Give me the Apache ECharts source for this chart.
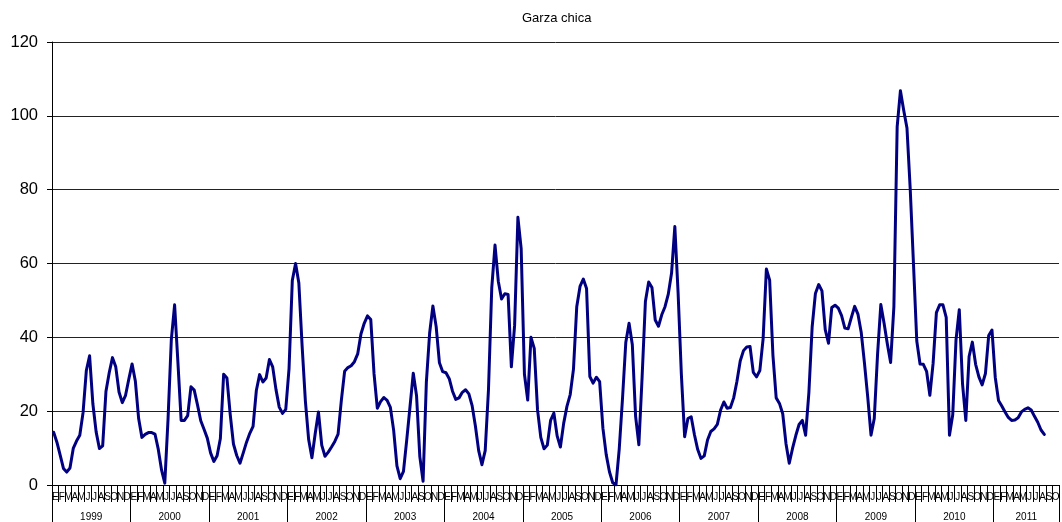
<!DOCTYPE html>
<html>
<head>
<meta charset="utf-8">
<script src="https://cdn.jsdelivr.net/npm/echarts@6/dist/echarts.min.js"></script>
<style>html,body{margin:0;padding:0;background:#fff}#c{width:1062px;height:522px}</style>
</head>
<body>
<div id="c"></div>
<script>
// ---- data (half-monthly values) ----
const chartTitle = 'Garza chica';
const monthLetters = ['E','F','M','A','M','J','J','A','S','O','N','D'];
const years = ['1999','2000','2001','2002','2003','2004','2005','2006','2007','2008','2009','2010','2011'];
const monthsShownLastYear = 10;
const yMin = 0, yMax = 120, yStep = 20;

const v1999 = [14.3, 11.6, 8.1, 4.5, 3.5, 4.6, 9.9, 11.9, 13.5, 19.6, 31, 35, 22, 14.4, 9.9, 10.6, 25.3, 30.4, 34.5, 32, 25.2, 22.3, 24.3, 28.7];
const v2000 = [32.8, 28.1, 18, 12.9, 13.7, 14.2, 14.2, 13.8, 9.7, 4.1, 0.5, 18, 39.4, 48.8, 33.4, 17.5, 17.5, 18.8, 26.6, 25.7, 21.7, 17.4, 15.1, 12.7];
const v2001 = [8.7, 6.4, 7.9, 12.6, 30, 29, 19.2, 11.1, 8, 5.9, 8.7, 11.6, 14, 15.9, 25.6, 29.9, 27.9, 29, 34, 32, 25.9, 21.1, 19.4, 20.5];
const v2002 = [31.5, 55.4, 60, 54.7, 37.7, 22.7, 12.3, 7.4, 13.9, 19.8, 10.8, 7.8, 8.9, 10.3, 11.8, 13.8, 22.9, 30.8, 31.8, 32.3, 33.4, 35.5, 40.9, 43.8];
const v2003 = [45.8, 44.8, 30.1, 20.8, 22.6, 23.7, 22.9, 21, 14.8, 5.2, 1.7, 3.7, 12.2, 21.2, 30.3, 24.2, 7.7, 1, 27.8, 41.1, 48.5, 42.9, 33.1, 30.7];
const v2004 = [30.4, 28.8, 25.4, 23.2, 23.6, 25.1, 25.8, 24.7, 21.5, 16, 9.3, 5.5, 9.3, 25.8, 53.3, 65, 55.2, 50.4, 51.8, 51.6, 32, 43.3, 72.5, 64];
const v2005 = [30, 23, 40, 37, 20.4, 12.9, 9.8, 10.8, 17.5, 19.5, 13.3, 10.3, 16.7, 21.3, 24.5, 31.4, 48.3, 53.8, 55.8, 53.2, 29.4, 27.6, 29.2, 28];
const v2006 = [15.4, 8.3, 3.6, 0.6, 0, 9.8, 23.5, 38.6, 43.8, 38, 18.6, 10.9, 29.4, 49.7, 55, 53.5, 44.7, 43, 46.1, 48.3, 51.7, 57.4, 70, 52];
const v2007 = [29.9, 13.1, 18, 18.5, 13.6, 9.6, 7.2, 7.9, 12.2, 14.5, 15.2, 16.4, 20.3, 22.5, 20.8, 21, 23.6, 28.1, 33.6, 36.4, 37.4, 37.5, 30.5, 29.3];
const v2008 = [31, 39.6, 58.5, 55.5, 35.2, 23.6, 22.1, 19.3, 11.2, 5.9, 9.9, 13.4, 16.4, 17.5, 13.5, 25, 42.8, 51.9, 54.3, 52.6, 42.1, 38.4, 48.1, 48.7];
const v2009 = [47.9, 45.9, 42.5, 42.3, 45.4, 48.4, 46.3, 41.4, 33, 23.8, 13.5, 18, 35.3, 48.9, 43.8, 38.2, 33.2, 48.3, 97, 106.8, 101.5, 96.7, 80.1, 59.7];
const v2010 = [39, 32.8, 32.7, 30.8, 24.3, 33, 46.7, 48.8, 48.8, 45.4, 13.5, 19, 39.3, 47.5, 27.3, 17.5, 34.8, 38.7, 32.7, 29.3, 27.1, 30.2, 40.5, 42];
const v2011 = [29.2, 22.9, 21.4, 19.8, 18.3, 17.5, 17.6, 18.2, 19.8, 20.5, 20.9, 20.3, 18.6, 17, 14.9, 13.7];

// ---- build categories ----
const values = [].concat(v1999, v2000, v2001, v2002, v2003, v2004, v2005, v2006, v2007, v2008, v2009, v2010, v2011);
const monthCats = [];
years.forEach(function (y, yi) {
  const n = (yi === years.length - 1) ? monthsShownLastYear : 12;
  for (let m = 0; m < n; m++) monthCats.push(y + '|' + monthLetters[m] + '|' + m + '|' + n);
});
const halfCats = [];
monthCats.forEach(function (c) { halfCats.push(c + 'a'); halfCats.push(c + 'b'); });

const FONT = 'Liberation Sans, Arial, Helvetica, sans-serif';
const chart = echarts.init(document.getElementById('c'), null, {renderer: 'canvas'});
chart.setOption({
  animation: false,
  backgroundColor: '#ffffff',
  title: {
    text: chartTitle, left: 517, top: 7,
    textStyle: {fontFamily: FONT, fontSize: 13, fontWeight: 'normal', color: '#000'}
  },
  grid: {left: 52, right: 3, top: 42, bottom: 37, containLabel: false, outerBoundsMode: 'none'},
  xAxis: [
    {
      type: 'category', position: 'bottom', data: monthCats, boundaryGap: true,
      axisLine: {show: true, lineStyle: {color: '#000', width: 1}},
      axisTick: {show: true, interval: 0, length: 17, lineStyle: {color: '#000', width: 1}},
      axisLabel: {
        interval: 0, margin: 7, fontSize: 10, fontFamily: FONT, color: '#000',
        formatter: function (v) { return v.split('|')[1]; }
      },
      splitLine: {show: false}
    },
    {
      type: 'category', position: 'bottom', data: monthCats, boundaryGap: true,
      axisLine: {show: false},
      axisTick: {show: true, length: 37, lineStyle: {color: '#000', width: 1},
        interval: function (i) { return i % 12 === 0; }},
      axisLabel: {
        margin: 27, fontSize: 10, fontFamily: FONT, color: '#000',
        padding: [0, 0, 0, 6.5],
        interval: function (i, v) {
          const p = v.split('|');
          const m = +p[2], n = +p[3];
          return m === Math.floor(n / 2) - 1;
        },
        formatter: function (v) { return v.split('|')[0]; }
      },
      splitLine: {show: false}
    },
    {
      type: 'category', data: halfCats, boundaryGap: true, show: false
    }
  ],
  yAxis: {
    type: 'value', min: yMin, max: yMax, interval: yStep,
    axisLine: {show: true, lineStyle: {color: '#000', width: 1}},
    axisTick: {show: true, length: 5, lineStyle: {color: '#000'}},
    axisLabel: {fontSize: 16.5, fontFamily: FONT, color: '#000', margin: 14},
    splitLine: {show: true, lineStyle: {color: '#222', width: 1}}
  },
  series: [{
    type: 'line', xAxisIndex: 2, data: values,
    symbol: 'none', showSymbol: false, smooth: false,
    lineStyle: {color: '#000080', width: 3, join: 'round', cap: 'round'},
    clip: true
  }]
});
</script>
</body>
</html>
